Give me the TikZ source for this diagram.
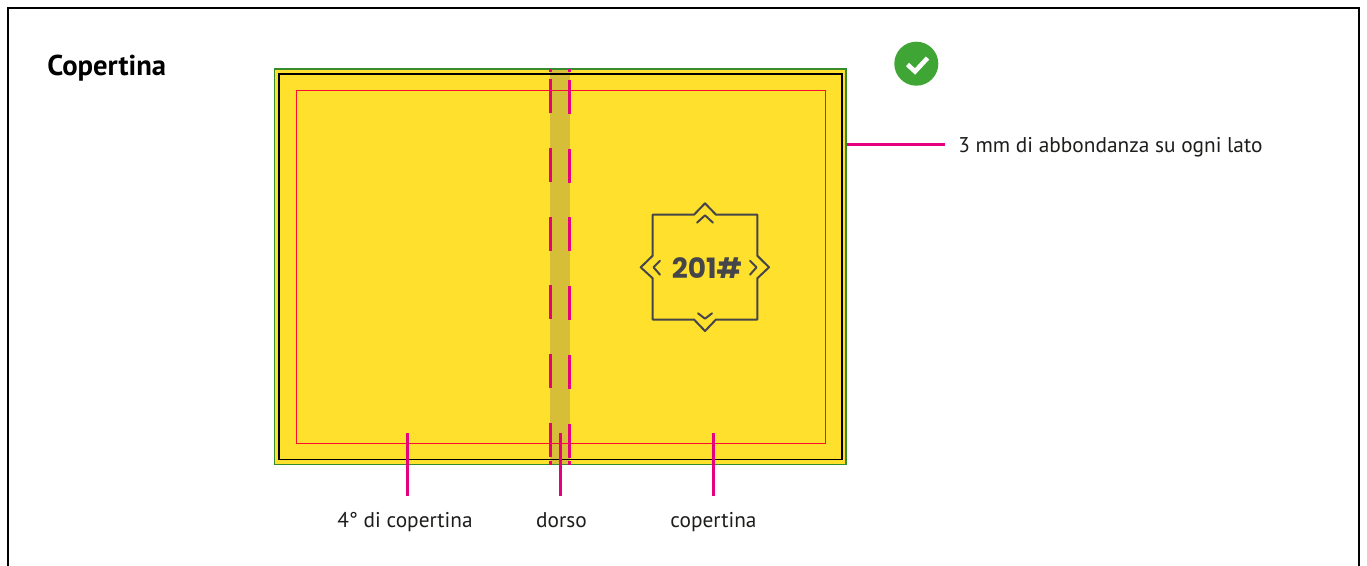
\documentclass[tikz,border=0pt]{standalone}
\usepackage{fontspec}
\setmainfont{PT Sans}
\newfontfamily\emblemfont{Poppins}
\definecolor{pinkline}{HTML}{E6007E}
\definecolor{redline}{HTML}{FF0A30}
\definecolor{greenline}{HTML}{3FA535}
\definecolor{coveryellow}{HTML}{FFE12D}
\definecolor{spinecol}{HTML}{D6BE38}
\definecolor{inkcol}{HTML}{1D1D1B}
\definecolor{emblemcol}{HTML}{45454A}
\tikzset{
  x=0.75pt,y=-0.75pt,
  leader/.style={draw=pinkline,line width=1.9pt},
  foldline/.style={draw=pinkline,line width=1.9pt},
  labeltext/.style={inner sep=0pt,text=inkcol,font=\fontsize{16}{19}\selectfont},
  emblemline/.style={draw=emblemcol,line width=1.5pt,line join=round,line cap=round},
}
\begin{document}
\begin{tikzpicture}
\useasboundingbox (0,0) rectangle (1367,565);
\fill[white] (0,0) rectangle (1367,565);
% outer frame
\draw[line width=0.9pt,draw=black] (8,575) -- (8,8) -- (1359,8) -- (1359,575);
\node[inner sep=0pt,text=black,font=\fontsize{21.5}{25}\selectfont\bfseries,anchor=base west] (title) at (47,75) {Copertina};
% cover
\fill[coveryellow] (274,69) rectangle (846,464);
\fill[spinecol] (550,69) rectangle (570,464);
\draw[draw=redline,line width=0.72pt] (296,90.5) rectangle (825,443);
\draw[draw=black,line width=0.8pt] (279,74) rectangle (842,459.5);
\draw[draw=greenline!85!black,line width=1.35pt] (274.5,69) rectangle (846,464.5);
% fold lines
\foreach \xx/\dd in {550.3/0,569.5/0.7}{
  \draw[foldline] (\xx,69) -- (\xx,72);
  \foreach \yy in {79,147.8,216.6,285.4,354.2,423}{
    \draw[foldline] (\xx,\yy+\dd) -- (\xx,\yy+\dd+34);
  }
  \draw[foldline] (\xx,461) -- (\xx,464.5);
}
% emblem
\draw[emblemline] (694,214.7) -- (705,203.3) -- (716,214.7) -- (757.3,214.7) -- (757.3,255.7) -- (769,267.3) -- (757.3,278.3) -- (757.3,319.5) -- (716,319.5) -- (705,331) -- (694,319.5) -- (652.7,319.5) -- (652.7,278.3) -- (640.7,267.3) -- (652.7,255.7) -- (652.7,214.7) -- cycle;
\draw[emblemline] (697,222.7) -- (705,215.3) -- (713,222.7);
\draw[emblemline] (698,313.3) -- (705,318.7) -- (712,313.3);
\draw[emblemline] (660,260.7) -- (653.5,267.3) -- (660,274.7);
\draw[emblemline] (750,260.7) -- (756.5,267.3) -- (750,274.7);
\node[inner sep=0pt,text=emblemcol,font=\emblemfont\fontsize{21}{24}\selectfont\bfseries] (year) at (707,268) {201\#};
% check badge
\node[circle,fill=greenline,minimum size=33pt,inner sep=0pt] (badge) at (916.3,63.7) {};
\draw[white,line width=3.4pt] (907.5,64.5) -- (915,71.5) -- (927.5,58);
% labels
\node[labeltext,anchor=base west] (bleed) at (958,152) {3 mm di abbondanza su ogni lato};
\node[labeltext,anchor=base] (back) at (405,527) {4° di copertina};
\node[labeltext,anchor=base] (spine) at (561.5,527) {dorso};
\node[labeltext,anchor=base] (front) at (713.5,527) {copertina};
% leaders
\coordinate (bleedA) at (847,144.5);
\coordinate (bleedB) at (945,144.5);
\coordinate (backA) at (407.3,433);
\coordinate (backB) at (407.3,496);
\coordinate (spineA) at (560.5,433);
\coordinate (spineB) at (560.5,496);
\coordinate (frontA) at (713.5,433);
\coordinate (frontB) at (713.5,496);
\draw[leader] (bleedA) -- (bleedB);
\draw[leader] (backA) -- (backB);
\draw[leader] (spineA) -- (spineB);
\draw[leader] (frontA) -- (frontB);
\end{tikzpicture}
\end{document}
